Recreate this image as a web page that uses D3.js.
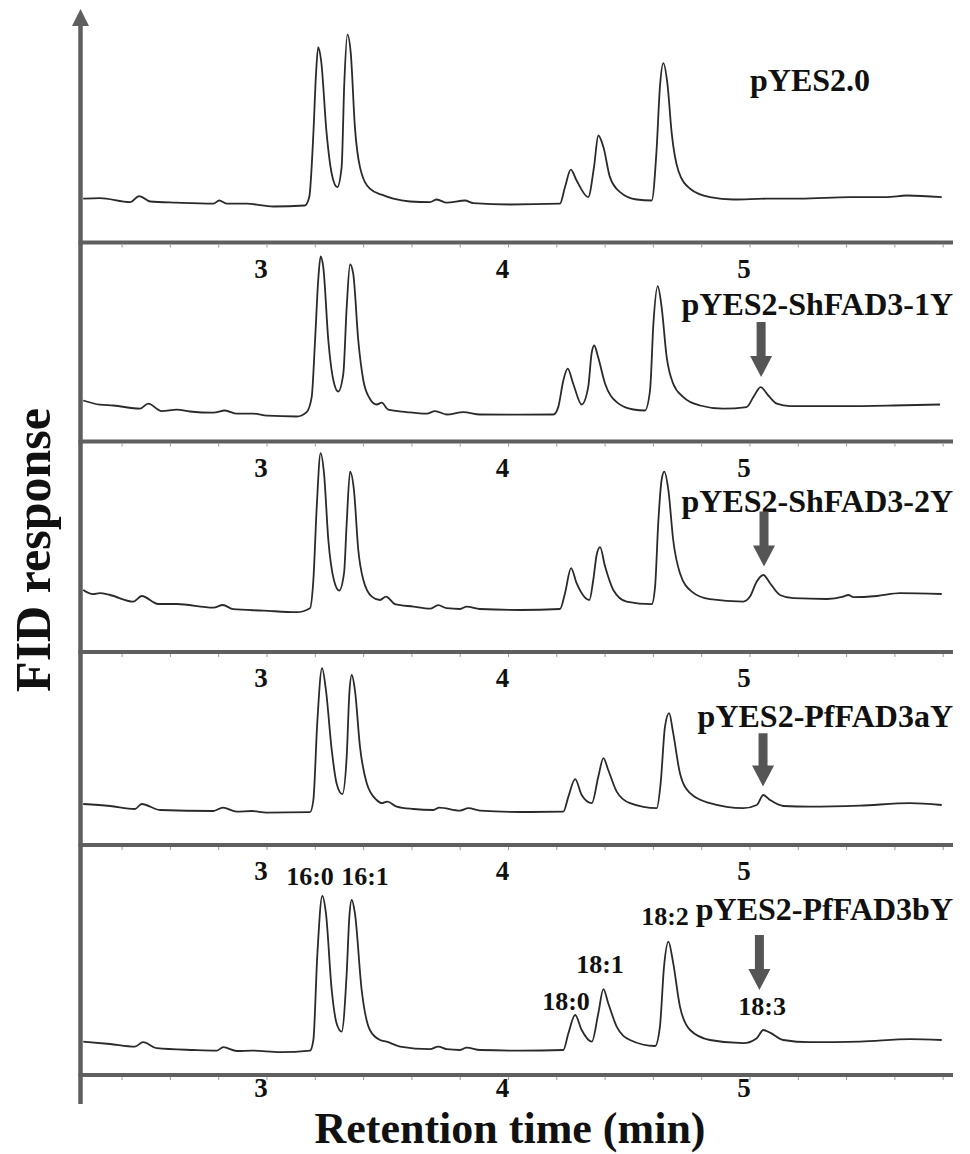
<!DOCTYPE html>
<html>
<head>
<meta charset="utf-8">
<script src="https://cdn.jsdelivr.net/npm/d3@7"></script>
<style>
  body { margin: 0; background: #fff; }
  svg text { font-family: "Liberation Serif", "Times New Roman", serif; font-weight: bold; fill: #111; }
</style>
</head>
<body>
<svg id="chart" width="970" height="1154"></svg>
<script>
// sample names, top to bottom
var sampleNames = ["pYES2.0", "pYES2-ShFAD3-1Y", "pYES2-ShFAD3-2Y", "pYES2-PfFAD3aY", "pYES2-PfFAD3bY"];

// [retention time (min), FID response]
var tracePYES20 = [
  [2.239,21.9],[2.308,22.2],[2.433,20.2],[2.471,23.2],[2.516,20.5],[2.626,19.9],[2.778,19.4],[2.802,21],
  [2.833,19.4],[2.916,19.4],[3.026,18],[3.157,18.5],[3.175,22.7],[3.192,54.4],[3.203,84.4],[3.212,97.7],
  [3.224,91],[3.247,54.4],[3.268,34.4],[3.291,27.7],[3.309,37.7],[3.320,79.4],[3.333,103.9],[3.347,94.4],
  [3.364,57.7],[3.385,37.7],[3.426,26.9],[3.475,23.9],[3.523,21.9],[3.592,20.5],[3.675,20.2],[3.703,21.5],
  [3.744,19.9],[3.820,21],[3.854,19.7],[4.006,19],[4.213,19.4],[4.234,27.7],[4.258,36.4],[4.282,31],
  [4.330,22.7],[4.354,37.7],[4.372,53.5],[4.393,47.7],[4.420,32.7],[4.462,25.2],[4.531,21.5],[4.593,21],
  [4.613,46],[4.627,77.7],[4.641,89.7],[4.658,79.4],[4.676,54.4],[4.703,36],[4.752,26.9],[4.834,22.7],
  [4.931,21.5],[5.069,21.9],[5.207,21.9],[5.414,22.7],[5.566,22.7],[5.649,23.5],[5.794,22.7]
];
var traceShFAD31 = [
  [2.239,20.5],[2.308,18.4],[2.364,18],[2.474,16.4],[2.508,18.9],[2.564,15.2],[2.626,15.9],[2.681,15],
  [2.778,14.4],[2.826,15.5],[2.875,13.9],[2.943,13.9],[3.0,12.9],[3.123,12.5],[3.164,14.7],[3.185,22.2],
  [3.199,50.5],[3.212,80.5],[3.222,92.5],[3.233,87.2],[3.254,50.5],[3.275,30.5],[3.295,25],[3.316,33.9],
  [3.330,67.2],[3.344,88.5],[3.357,83.9],[3.378,50.5],[3.399,30.5],[3.426,21.4],[3.454,18.5],[3.475,19.4],
  [3.502,15.9],[3.578,14.7],[3.661,13.9],[3.696,15.2],[3.744,13.5],[3.813,14.7],[3.882,13.5],[4.048,13.4],
  [4.186,13.5],[4.206,17.2],[4.227,30.5],[4.245,36.4],[4.268,28.9],[4.303,18.5],[4.330,27.2],[4.344,43.9],
  [4.355,48],[4.371,42.2],[4.400,28.9],[4.448,19.7],[4.517,16],[4.565,15.5],[4.586,25.5],[4.600,58.9],
  [4.618,77.7],[4.634,67.2],[4.655,42.2],[4.682,28.9],[4.724,22.2],[4.793,18],[4.889,16.4],[4.986,17.2],
  [5.014,22.2],[5.044,27.2],[5.076,23],[5.111,18.9],[5.166,17.7],[5.386,17.7],[5.593,18],[5.787,18.5]
];
var traceShFAD32 = [
  [2.239,31],[2.280,28.9],[2.308,29.4],[2.350,28.5],[2.446,25.2],[2.481,28],[2.550,24],[2.626,24],
  [2.778,22.2],[2.817,23.5],[2.860,21.4],[2.985,20.7],[3.123,19.9],[3.178,21.9],[3.192,36],[3.206,72.7],
  [3.222,99.4],[3.236,89.4],[3.254,56],[3.277,36],[3.299,30.7],[3.319,39.4],[3.330,64.4],[3.344,90.2],
  [3.360,81],[3.378,51],[3.399,36],[3.434,27.7],[3.468,26],[3.493,27.7],[3.530,23.9],[3.606,22.7],
  [3.675,21.7],[3.709,23.4],[3.744,21.9],[3.799,21.5],[3.827,22.7],[3.882,21.5],[4.048,21],[4.213,21.5],
  [4.234,29.4],[4.259,41.9],[4.282,34.4],[4.335,26],[4.351,36],[4.365,48.5],[4.379,52.4],[4.400,42.7],
  [4.434,31],[4.489,25.2],[4.593,23.9],[4.607,32.7],[4.620,64.4],[4.634,86],[4.645,90.2],[4.662,81],
  [4.682,56],[4.710,39.4],[4.759,30.2],[4.834,26.4],[4.972,25.2],[5.000,27.7],[5.028,35.2],[5.055,38.5],
  [5.083,34.4],[5.124,28.5],[5.179,26.9],[5.318,26.5],[5.386,27.7],[5.407,28.5],[5.428,27.4],[5.525,28],
  [5.621,29.4],[5.794,29]
];
var tracePfFAD3a = [
  [2.239,20.5],[2.350,19.5],[2.453,18],[2.481,20.5],[2.557,17.5],[2.778,17],[2.817,18.7],[2.875,16.7],
  [2.937,17],[2.999,16.2],[3.178,16.4],[3.192,22.5],[3.208,60.9],[3.228,88.4],[3.244,77.5],[3.268,47.5],
  [3.288,30.9],[3.312,25.4],[3.330,44.2],[3.341,75.9],[3.351,85],[3.364,77.5],[3.385,49.2],[3.413,30.9],
  [3.454,22.5],[3.475,20.9],[3.498,21.7],[3.537,19.2],[3.606,18],[3.689,17.5],[3.713,18.7],[3.799,17.2],
  [3.834,18.4],[3.882,17.2],[4.048,16.5],[4.227,16.7],[4.248,24.2],[4.276,32.9],[4.303,25],[4.345,20.9],
  [4.372,34.2],[4.393,43.4],[4.413,37.5],[4.448,26.7],[4.503,20.9],[4.614,18.4],[4.630,30.9],[4.648,59.2],
  [4.665,65.9],[4.682,55.9],[4.710,35.9],[4.752,25.9],[4.834,20.9],[4.972,18.4],[5.028,20],[5.055,25],
  [5.083,22.5],[5.138,19.5],[5.248,19.2],[5.455,19.7],[5.663,20.9],[5.794,20]
];
var tracePfFAD3b = [
  [2.239,16.7],[2.350,15.5],[2.453,14.2],[2.487,16.4],[2.543,13.4],[2.695,12.5],[2.792,12.2],[2.819,13.9],
  [2.875,12],[2.937,12.2],[3.054,11.4],[3.178,12.2],[3.192,17.5],[3.208,59.2],[3.229,89.5],[3.244,80.9],
  [3.268,42.5],[3.288,25.9],[3.309,21.7],[3.330,50.9],[3.341,79.2],[3.351,87.5],[3.364,80.9],[3.392,42.5],
  [3.426,22.5],[3.468,17.5],[3.495,16.7],[3.551,14.2],[3.675,12.9],[3.709,14.2],[3.744,12.9],[3.799,12.5],
  [3.827,13.7],[3.882,12.5],[4.048,12.2],[4.227,12.5],[4.248,20.9],[4.276,30],[4.303,22.5],[4.345,16.7],
  [4.372,30.9],[4.393,42.9],[4.413,35.9],[4.448,24.2],[4.503,17.5],[4.607,14.5],[4.627,24.2],[4.644,54.2],
  [4.662,66.7],[4.682,55.9],[4.710,34.2],[4.752,22.5],[4.834,17.5],[4.972,15.9],[5.028,18.4],[5.055,22.5],
  [5.083,21.2],[5.138,17.5],[5.248,16.4],[5.455,16.7],[5.663,17.9],[5.794,17.5]
];
var traces = [tracePYES20, traceShFAD31, traceShFAD32, tracePfFAD3a, tracePfFAD3b];

// x axis ticks (min)
var majorTicks = [3, 4, 5];
var minorTicks = [2.4, 2.6, 2.8, 3.0, 3.2, 3.4, 3.6, 3.8, 4.0, 4.2, 4.4, 4.6, 4.8, 5.0, 5.2, 5.4, 5.6, 5.8];

// 18:3 arrows (panels 2-5): time, top and tip response
var arrowTimes = [5.046, 5.058, 5.054, 5.039];
var arrowTops = [59.7, 70.2, 55.9, 70];
var arrowTips = [32.2, 42.7, 29.2, 42.5];

// fatty acid labels in the last panel
var peakNames = ["16:0", "16:1", "18:0", "18:1", "18:2", "18:3"];
var peakTimes = [3.178, 3.406, 4.238, 4.379, 4.648, 5.050];
var peakLabelResp = [95, 95, 32.5, 50.9, 75, 30];

// ---- layout ----
var svg = d3.select("#chart");
var axisX = 80.5;
var lineRight = 953;
var panelBottoms = [242.5, 441.5, 652, 845, 1075];
var gray = "#5f5f5f";

var x = d3.scaleLinear().domain([3, 5]).range([267, 750]);

function yScale(i) {
  var b = panelBottoms[i];
  return d3.scaleLinear().domain([0, 100]).range([b, b - 200]);
}

var line = d3.line().curve(d3.curveMonotoneX);

// traces
traces.forEach(function (tr, i) {
  var y = yScale(i);
  line.x(function (d) { return x(d[0]); }).y(function (d) { return y(d[1]); });
  svg.append("path")
    .datum(tr)
    .attr("d", line)
    .attr("fill", "none")
    .attr("stroke", "#2a2a2a")
    .attr("stroke-width", 1.8)
    .attr("stroke-linejoin", "round");
});

// separators with small ticks and labels
panelBottoms.forEach(function (b, i) {
  svg.append("line")
    .attr("x1", axisX - 2).attr("x2", lineRight)
    .attr("y1", b).attr("y2", b)
    .attr("stroke", gray).attr("stroke-width", 4);
  svg.selectAll(null)
    .data(minorTicks)
    .enter().append("line")
    .attr("x1", function (d) { return x(d); })
    .attr("x2", function (d) { return x(d); })
    .attr("y1", b + 2).attr("y2", b + 5)
    .attr("stroke", "#999").attr("stroke-width", 1);
  var last = i === panelBottoms.length - 1;
  svg.selectAll(null)
    .data(majorTicks)
    .enter().append("text")
    .attr("x", function (d) { return x(d) - 6; })
    .attr("y", b + (last ? 22 : 35))
    .attr("text-anchor", "middle")
    .attr("font-size", 27)
    .text(function (d) { return d; });
});

// y axis with arrow
svg.append("line")
  .attr("x1", axisX).attr("x2", axisX)
  .attr("y1", 22).attr("y2", 1104)
  .attr("stroke", gray).attr("stroke-width", 4.5);
svg.append("path")
  .attr("d", "M" + (axisX - 8.5) + ",26L" + axisX + ",9L" + (axisX + 8.5) + ",26Z")
  .attr("fill", gray);

// sample names
svg.append("text")
  .attr("x", 750).attr("y", 91)
  .attr("font-size", 32)
  .text(sampleNames[0]);
var nameBaselines = [315, 512, 727, 920];
sampleNames.slice(1).forEach(function (n, i) {
  svg.append("text")
    .attr("x", 953).attr("y", nameBaselines[i])
    .attr("text-anchor", "end")
    .attr("font-size", 32)
    .text(n);
});

// arrows to 18:3
arrowTimes.forEach(function (t, i) {
  var y = yScale(i + 1);
  var cx = x(t), top = y(arrowTops[i]), tip = y(arrowTips[i]);
  var headTop = tip - 21;
  svg.append("path")
    .attr("d", "M" + (cx - 4.5) + "," + top + "H" + (cx + 4.5) + "V" + headTop +
      "H" + (cx + 11) + "L" + cx + "," + tip + "L" + (cx - 11) + "," + headTop +
      "H" + (cx - 4.5) + "Z")
    .attr("fill", "#555");
});

// fatty acid labels
var y5 = yScale(4);
svg.selectAll(null)
  .data(peakNames)
  .enter().append("text")
  .attr("x", function (d, i) { return x(peakTimes[i]); })
  .attr("y", function (d, i) { return y5(peakLabelResp[i]); })
  .attr("text-anchor", "middle")
  .attr("font-size", 26)
  .text(function (d) { return d; });

// axis titles
svg.append("text")
  .attr("x", 510).attr("y", 1143)
  .attr("text-anchor", "middle")
  .attr("font-size", 44)
  .text("Retention time (min)");
svg.append("text")
  .attr("transform", "translate(50,550) rotate(-90)")
  .attr("text-anchor", "middle")
  .attr("font-size", 50)
  .text("FID response");
</script>
</body>
</html>
